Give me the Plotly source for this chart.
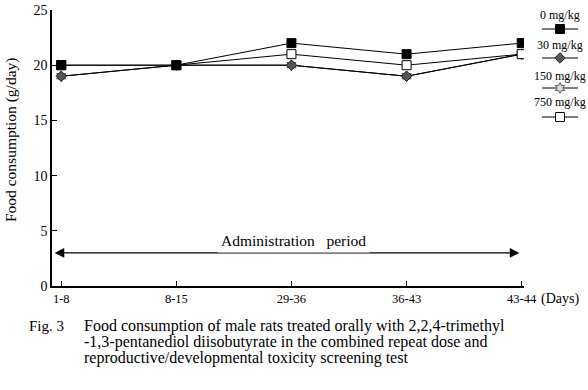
import plotly.graph_objects as go

periods = ["1-8", "8-15", "29-36", "36-43", "43-44"]
dose_0 = [20, 20, 22, 21, 22]
dose_30 = [19, 20, 20, 19, 21]
dose_150 = [19, 20, 20, 19, 21]
dose_750 = [20, 20, 21, 20, 21]
series_names = ["0 mg/kg", "30 mg/kg", "150 mg/kg", "750 mg/kg"]
y_ticks = [0, 5, 10, 15, 20, 25]

FONT = "Liberation Serif"
W, H = 588, 390
# pixel positions of the plot frame
REF_L, REF_R, REF_T, REF_B = 52, 584, 10, 286
ML = REF_L
MR = W - REF_R
MT = REF_T
MB = H - REF_B
PW = REF_R - REF_L
PH = REF_B - REF_T


def px(x):
    return (x - REF_L) / PW


def py(y):
    return (REF_B - y) / PH


styles = [
    dict(symbol="square", size=9, color="black", line=dict(color="black", width=1)),
    dict(symbol="diamond", size=8, color="#555555", line=dict(color="#222222", width=1)),
    dict(symbol="hexagram", size=8, color="#d8d8d8", line=dict(color="#555555", width=1)),
    dict(symbol="square", size=9, color="white", line=dict(color="black", width=1)),
]
series = [dose_0, dose_30, dose_150, dose_750]
xs = list(range(len(periods)))

fig = go.Figure()
for i in [2, 1, 3, 0]:
    fig.add_trace(go.Scatter(
        x=xs, y=series[i], mode="lines+markers", name=series_names[i],
        line=dict(color="black", width=1), marker=styles[i], showlegend=False,
    ))

main_end = px(524)
LEG_L = 538
leg_start = px(LEG_L)


def lx(x):
    return (x - LEG_L) / (REF_R - LEG_L)


leg_text_y = [15, 45, 76, 102]
leg_mark_y = [29, 58, 88, 117]
for i in range(4):
    yy = py(leg_mark_y[i])
    fig.add_trace(go.Scatter(
        x=[lx(542), lx(560), lx(578)], y=[yy, yy, yy], mode="lines",
        line=dict(color="black", width=1), xaxis="x2", yaxis="y2",
        showlegend=False, hoverinfo="skip"))
    fig.add_trace(go.Scatter(
        x=[lx(560)], y=[yy], mode="markers", marker=styles[i],
        xaxis="x2", yaxis="y2", showlegend=False, hoverinfo="skip"))

annotations = []
for i in range(4):
    annotations.append(dict(
        x=px(560), y=py(leg_text_y[i]), xref="paper", yref="paper",
        text=series_names[i], showarrow=False, xanchor="center", yanchor="middle",
        font=dict(family=FONT, size=12, color="black")))

annotations.append(dict(
    x=3.98, y=3, ax=-0.07, ay=3, xref="x", yref="y", axref="x", ayref="y",
    text="", showarrow=True, arrowhead=2, arrowsize=1.6, arrowwidth=1.2,
    arrowcolor="black", arrowside="end+start"))
annotations.append(dict(
    x=px(293), y=py(253), xref="paper", yref="paper", text="Administration&nbsp;&nbsp;&nbsp;period",
    showarrow=False, bgcolor="white", borderpad=3,
    font=dict(family=FONT, size=15.5, color="black")))

annotations.append(dict(
    x=px(539), y=py(299), xref="paper", yref="paper", text="(Days)", showarrow=False,
    xanchor="left", yanchor="middle", font=dict(family=FONT, size=14, color="black")))

annotations.append(dict(
    x=px(11), y=py(140), xref="paper", yref="paper", text="Food consumption (g/day)",
    showarrow=False, textangle=-90, xanchor="center", yanchor="middle",
    font=dict(family=FONT, size=15.5, color="black")))

annotations.append(dict(
    x=px(27), y=py(326), xref="paper", yref="paper", text="Fig. 3", showarrow=False,
    xanchor="left", yanchor="middle", font=dict(family=FONT, size=15, color="black")))
caption = [
    "Food consumption of male rats treated orally with 2,2,4-trimethyl",
    "-1,3-pentanediol diisobutyrate in the combined repeat dose and",
    "reproductive/developmental toxicity screening test",
]
for k, line in enumerate(caption):
    annotations.append(dict(
        x=px(82), y=py(326 + 16 * k), xref="paper", yref="paper", text=line,
        showarrow=False, xanchor="left", yanchor="middle",
        font=dict(family=FONT, size=16, color="black")))

fig.update_layout(
    width=W, height=H, margin=dict(l=ML, r=MR, t=MT, b=MB, autoexpand=False),
    paper_bgcolor="white", plot_bgcolor="white",
    font=dict(family=FONT, size=13, color="black"),
    xaxis=dict(domain=[0, main_end], range=[-0.08, 4.02], tickmode="array",
               tickvals=xs, ticktext=periods, ticks="inside", ticklen=5,
               tickcolor="black", showline=True, linecolor="black", linewidth=1.5,
               showgrid=False, zeroline=False, ticklabeloverflow="allow",
               tickfont=dict(family=FONT, size=12.5)),
    yaxis=dict(range=[0, 25], tickvals=y_ticks, ticks="inside", ticklen=5,
               tickcolor="black", showline=True, linecolor="black", linewidth=1.5,
               showgrid=False, zeroline=False, ticklabeloverflow="allow",
               tickfont=dict(family=FONT, size=14)),
    xaxis2=dict(domain=[leg_start, 1], range=[0, 1], visible=False, anchor="y2"),
    yaxis2=dict(domain=[0, 1], range=[0, 1], visible=False, anchor="x2"),
    annotations=annotations,
    showlegend=False,
)

fig.write_html(
    "out.html",
    config={"displayModeBar": False},
    post_script="document.body.style.margin='0';document.body.style.overflow='hidden';",
)
